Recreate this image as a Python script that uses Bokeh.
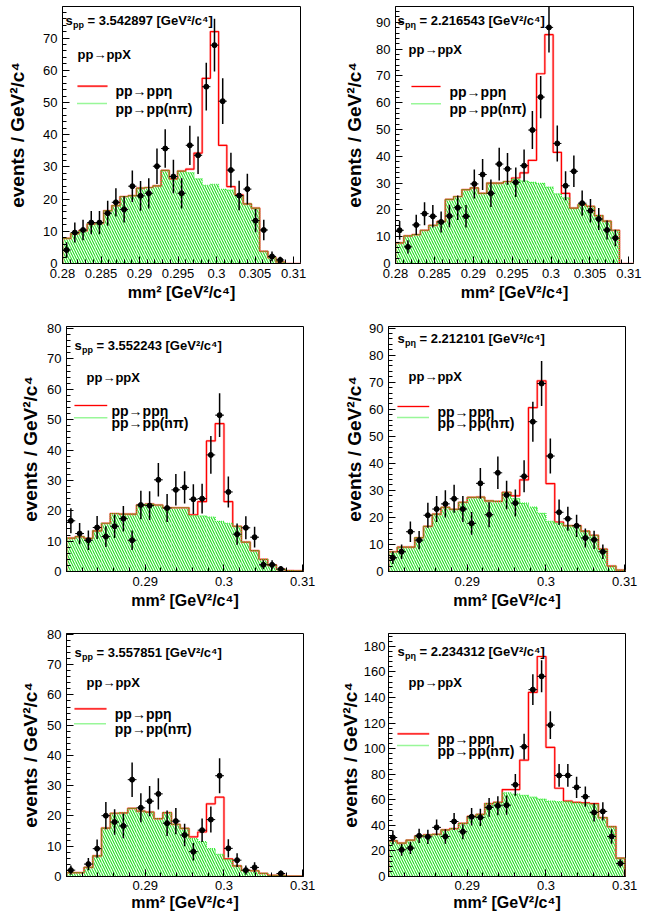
import numpy as np
from bokeh.plotting import figure
from bokeh.layouts import column, row
from bokeh.models import Label, FixedTicker, Range1d
from bokeh.embed import file_html
from bokeh.resources import INLINE

FONT = "Liberation Sans"

# ---------------- data ----------------
top_bin_start = 0.28
top_bin_width = 0.032 / 30
low_bin_start = 0.28
low_bin_width = 0.03 / 27

top_x_ticks = [0.28, 0.285, 0.29, 0.295, 0.30, 0.305, 0.31]
top_x_labels = ["0.28", "0.285", "0.29", "0.295", "0.3", "0.305", "0.31"]
low_x_ticks = [0.29, 0.30, 0.31]
low_x_labels = ["0.29", "0.3", "0.31"]

reaction_text = "pp\u2192ppX"
legend_signal = "pp\u2192pp\u03b7"
legend_background = "pp\u2192pp(n\u03c0)"
x_title = "mm\u00b2 [GeV\u00b2/c\u2074]"
y_title = "events / GeV\u00b2/c\u2074"
energy_unit = "[GeV\u00b2/c\u2074]"

# panel 1 : s_pp = 3.542897
p1_sub = "pp"
p1_value = "3.542897"
p1_data = [4.2, 9.6, 10.4, 12.7, 12.7, 15.6, 19.0, 16.8, 24.0, 21.0, 21.8, 30.2, 35.7, 27.0,
           21.8, 36.7, 33.6, 54.9, 67.8, 50.4, 29.0, 21.1, 23.1, 13.3, 10.4, 2.2, 1.1]
p1_err = [2.4, 3.1, 3.2, 3.6, 3.6, 3.9, 4.4, 4.1, 4.9, 4.6, 4.7, 5.5, 6.0, 5.2,
          4.7, 6.1, 5.8, 7.4, 8.2, 7.1, 5.4, 4.6, 4.8, 3.6, 3.2, 1.5, 1.0]
p1_total = [7.8, 9.3, 10.2, 12.3, 12.5, 16.4, 18.0, 20.8, 21.1, 23.4, 23.6, 24.1, 28.9, 26.3, 28.7,
            29.3, 34.3, 57.5, 72.0, 36.7, 23.9, 21.3, 18.5, 17.2, 3.8, 1.8, 0.5, 0.0, 0.0]
p1_bkg = [7.8, 9.3, 10.2, 12.3, 12.5, 16.4, 18.0, 20.8, 21.1, 23.4, 23.6, 24.1, 28.9, 26.3, 28.7,
          28.2, 26.3, 24.3, 24.6, 23.0, 22.8, 21.0, 18.5, 17.2, 3.8, 1.8, 0.5, 0.0, 0.0]
p1_y_ticks = [0, 10, 20, 30, 40, 50, 60, 70]

# panel 2 : s_p eta = 2.216543
p2_sub = "p\u03b7"
p2_value = "2.216543"
p2_data = [12.4, 6.2, 14.4, 18.6, 17.6, 15.5, 17.7, 20.8, 17.6, 29.7, 33.2, 26.2, 37.1, 35.3,
           30.3, 36.5, 49.8, 62.1, 88.1, 44.8, 29.0, 34.4, 22.5, 19.7, 16.6, 12.5, 9.5]
p2_err = [3.5, 2.5, 3.8, 4.3, 4.2, 3.9, 4.2, 4.6, 4.2, 5.4, 5.8, 5.1, 6.1, 5.9,
          5.5, 6.0, 7.1, 7.9, 9.4, 6.7, 5.4, 5.9, 4.7, 4.4, 4.1, 3.5, 3.1]
p2_total = [7.7, 10.3, 10.8, 12.4, 14.2, 15.7, 23.9, 25.0, 27.6, 28.2, 26.2, 30.0, 30.0, 30.6, 31.9,
            33.8, 38.5, 70.8, 85.4, 41.5, 26.2, 20.7, 22.0, 21.3, 17.9, 15.8, 12.4, 0.0, 0.0]
p2_bkg = [7.7, 10.3, 10.8, 12.4, 14.2, 15.7, 23.9, 25.0, 27.6, 28.2, 26.2, 30.0, 30.0, 30.6, 31.5,
          30.8, 30.3, 29.9, 28.5, 26.0, 24.5, 20.7, 22.0, 21.3, 17.9, 15.8, 12.4, 0.0, 0.0]
p2_y_ticks = [0, 10, 20, 30, 40, 50, 60, 70, 80, 90]

# panel 3 : s_pp = 3.552243
p3_sub = "pp"
p3_value = "3.552243"
p3_data = [16.7, 12.5, 10.3, 14.5, 11.5, 14.9, 17.4, 10.3, 21.9, 21.7, 30.2, 20.9, 26.9, 27.7,
           23.8, 24.0, 38.4, 51.5, 26.2, 12.3, 14.4, 11.3, 2.2, 2.2, 0.8]
p3_err = [4.1, 3.5, 3.2, 3.8, 3.4, 3.9, 4.2, 3.2, 4.7, 4.7, 5.5, 4.6, 5.2, 5.3,
          4.9, 4.9, 6.2, 7.2, 5.1, 3.5, 3.8, 3.4, 1.5, 1.5, 0.9]
p3_total = [11.0, 11.5, 10.9, 13.4, 15.9, 19.1, 18.9, 18.9, 21.9, 22.2, 21.9, 21.0, 21.0, 21.0,
            18.7, 23.0, 43.0, 48.7, 23.0, 14.9, 9.7, 6.9, 4.0, 2.1, 0.7, 0.3, 0.2]
p3_bkg = [11.0, 11.5, 10.9, 13.4, 15.9, 19.1, 18.9, 18.9, 21.9, 22.2, 21.9, 21.0, 21.0, 21.0,
          18.4, 18.3, 17.9, 16.5, 15.9, 14.9, 9.7, 6.9, 4.0, 2.1, 0.7, 0.3, 0.2]
p3_y_ticks = [0, 10, 20, 30, 40, 50, 60, 70, 80]

# panel 4 : s_p eta = 2.212101
p4_sub = "p\u03b7"
p4_value = "2.212101"
p4_data = [5.1, 7.3, 14.7, 11.6, 20.8, 23.1, 25.0, 26.9, 23.1, 17.8, 32.6, 21.0, 36.5, 28.3,
           25.3, 35.2, 55.4, 69.5, 42.7, 21.9, 19.5, 16.9, 12.4, 11.7, 7.3]
p4_err = [2.3, 2.7, 3.8, 3.4, 4.6, 4.8, 5.0, 5.2, 4.8, 4.2, 5.7, 4.6, 6.0, 5.3,
          5.0, 5.9, 7.4, 8.3, 6.5, 4.7, 4.4, 4.1, 3.5, 3.4, 2.7]
p4_total = [7.3, 9.0, 9.0, 12.5, 16.7, 21.2, 23.7, 23.0, 25.6, 27.4, 27.5, 26.1, 25.9, 29.3,
            28.0, 33.9, 60.6, 70.5, 32.5, 18.3, 17.0, 17.0, 14.9, 13.4, 8.3, 2.0, 0.5]
p4_bkg = [7.3, 9.0, 9.0, 12.5, 16.7, 21.2, 23.7, 23.0, 25.6, 27.4, 27.5, 26.1, 25.9, 29.3,
          27.0, 25.3, 23.8, 21.5, 18.5, 17.8, 17.0, 17.0, 14.9, 13.4, 8.3, 2.0, 0.5]
p4_y_ticks = [0, 10, 20, 30, 40, 50, 60, 70, 80, 90]

# panel 5 : s_pp = 3.557851
p5_sub = "pp"
p5_value = "3.557851"
p5_data = [2.1, None, 4.1, 9.2, 20.1, 18.0, 16.7, 32.0, 22.7, 24.9, 27.3, 17.6, 18.3, 13.7,
           8.2, 15.3, 18.8, 33.3, 9.3, 5.4, 2.1, 3.0, None, None, 1.0]
p5_err = [1.5, None, 2.0, 3.0, 4.5, 4.2, 4.1, 5.7, 4.8, 5.0, 5.2, 4.2, 4.3, 3.7,
          2.9, 3.9, 4.3, 5.8, 3.0, 2.3, 1.5, 1.7, None, None, 1.0]
p5_total = [1.3, 1.3, 3.0, 6.8, 16.0, 20.9, 21.0, 22.5, 21.6, 21.3, 19.1, 21.1, 17.2, 15.9,
            13.1, 14.7, 24.0, 26.2, 5.8, 3.5, 2.0, 1.9, 1.0, 0.4, 0.4, 0.1, 0.1]
p5_bkg = [1.3, 1.3, 3.0, 6.8, 16.0, 20.9, 21.0, 22.5, 21.6, 21.3, 19.1, 21.1, 17.2, 15.9,
          12.5, 11.5, 9.2, 7.3, 5.6, 3.5, 2.0, 1.9, 1.0, 0.4, 0.4, 0.1, 0.1]
p5_y_ticks = [0, 10, 20, 30, 40, 50, 60, 70, 80]

# panel 6 : s_p eta = 2.234312
p6_sub = "p\u03b7"
p6_value = "2.234312"
p6_data = [30.5, 20.9, 22.2, 31.8, 31.0, 38.4, 31.3, 43.0, 35.0, 46.7, 46.2, 54.0, 55.3, 55.8,
           71.7, 101.5, 146.1, 156.5, 118.4, 79.0, 79.0, 69.7, 62.4, 50.1, 50.9, 31.3, 10.2]
p6_err = [5.5, 4.6, 4.7, 5.6, 5.6, 6.2, 5.6, 6.6, 5.9, 6.8, 6.8, 7.3, 7.4, 7.5,
          8.5, 10.1, 12.1, 12.5, 10.9, 8.9, 8.9, 8.3, 7.9, 7.1, 7.1, 5.6, 3.2]
p6_total = [27.9, 26.1, 28.4, 31.6, 32.6, 33.0, 36.5, 37.5, 41.5, 47.0, 48.5, 57.0, 58.0, 68.0,
            68.0, 91.0, 144.0, 172.0, 101.0, 69.0, 59.0, 58.0, 57.5, 57.0, 46.0, 39.0, 14.3]
p6_bkg = [27.9, 26.1, 28.4, 31.6, 32.6, 33.0, 36.5, 37.5, 41.5, 47.0, 48.5, 57.0, 58.0, 65.5,
          64.5, 63.5, 62.0, 60.5, 59.0, 58.5, 58.5, 57.5, 57.0, 56.5, 46.0, 39.0, 14.3]
p6_y_ticks = [0, 20, 40, 60, 80, 100, 120, 140, 160, 180]

# ---------------- styling / geometry ----------------
RED = "#ff0000"
RED_HALO = "#ff9a9a"
GREEN = "#1fdd1f"
GREEN_LINE = "#33ee33"


def make_panel(sub, value, data, err, total, bkg, bin_start, bin_width, x_end, y_end,
               y_ticks, y_minor_step, x_ticks, x_labels, x_minor_step, geo):
    fw, fh = geo["fw"], geo["fh"]
    p = figure(frame_width=fw, frame_height=fh,
               x_range=Range1d(bin_start, x_end), y_range=Range1d(0, y_end),
               output_backend="svg", toolbar_location=None,
               min_border_left=geo["bl"], min_border_right=geo["br"],
               min_border_top=geo["bt"], min_border_bottom=geo["bb"])
    p.xgrid.visible = False
    p.ygrid.visible = False
    p.outline_line_color = "black"
    p.outline_line_width = 1
    p.background_fill_color = "white"
    p.border_fill_color = "white"

    n = len(total)
    edges = bin_start + bin_width * np.arange(n + 1)

    # background hatched fill
    p.quad(left=edges[:-1], right=edges[1:], bottom=0, top=bkg,
           fill_alpha=0, line_alpha=0, hatch_pattern="\\", hatch_color=GREEN,
           hatch_scale=5, hatch_weight=1.1)

    sx = np.concatenate([[edges[0]], np.repeat(edges, 2)[1:-1], [edges[-1]]])
    sy_tot = np.concatenate([[0], np.repeat(total, 2), [0]])
    sy_bkg = np.concatenate([[0], np.repeat(bkg, 2), [0]])
    p.line(sx, sy_tot, line_color=RED_HALO, line_width=2.6, line_alpha=0.6)
    p.line(sx, sy_tot, line_color=RED, line_width=1.2)
    p.line(sx, sy_bkg, line_color=GREEN_LINE, line_width=1.2, line_dash="1 1")

    # data points
    idx = [i for i, v in enumerate(data) if v is not None]
    cx = np.array([edges[i] + bin_width / 2 for i in idx])
    vy = np.array([data[i] for i in idx])
    ve = np.array([err[i] for i in idx])
    p.segment(cx, vy - ve, cx, vy + ve, line_color="black", line_width=1.5)
    p.segment(cx - bin_width / 2, vy, cx + bin_width / 2, vy, line_color="black", line_width=1)
    p.scatter(cx, vy, size=5, color="black")

    # axes
    xa = p.xaxis[0]
    ya = p.yaxis[0]
    for ax in (xa, ya):
        ax.major_tick_in = 7
        ax.major_tick_out = 0
        ax.minor_tick_in = 4
        ax.minor_tick_out = 0
        ax.axis_line_color = "black"
        ax.major_tick_line_color = "black"
        ax.minor_tick_line_color = "black"
        ax.major_label_text_font = FONT
        ax.major_label_text_font_size = "13px"
        ax.major_label_text_color = "black"
        ax.axis_label_text_font = FONT
        ax.axis_label_text_font_style = "bold"
        ax.axis_label_text_color = "black"
    xa.ticker = FixedTicker(ticks=x_ticks,
                            minor_ticks=list(np.arange(bin_start, x_end + 1e-9, x_minor_step)))
    xa.major_label_overrides = {t: l for t, l in zip(x_ticks, x_labels)}
    xa.axis_label = x_title
    xa.axis_label_text_font_size = "16px"
    xa.major_label_standoff = geo["xls"]
    xa.axis_label_standoff = geo["xas"]
    ya.ticker = FixedTicker(ticks=y_ticks,
                            minor_ticks=list(np.arange(0, y_end, y_minor_step)))
    ya.axis_label = y_title
    ya.axis_label_text_font_size = "19px"
    ya.major_label_standoff = geo["yls"]
    ya.axis_label_standoff = geo["ylab"]

    x0 = bin_start

    def to_data(rx, ry):
        return (x0 + rx / fw * (x_end - x0), y_end - ry / fh * y_end)

    def lab(rx, ry, text, size):
        p.add_layout(Label(x=x0, y=y_end, x_offset=rx, y_offset=-ry, text=text,
                           text_font=FONT, text_font_size=size, text_font_style="bold",
                           text_color="black", text_baseline="alphabetic", text_align="left"))

    t = geo["txt"]
    # energy label with subscript
    lab(t["s"][0], t["s"][1], "s", "13px")
    lab(t["s"][0] + 7.5, t["s"][1] + 4.5, sub, "9px")
    lab(t["s"][0] + 22, t["s"][1], "= " + value + " " + energy_unit, "13px")
    # reaction
    lab(t["r"][0], t["r"][1], reaction_text, "13px")
    # legend
    l1 = t["l1"]
    l2 = t["l2"]
    (ax0, ay1), (ax1, _) = to_data(l1[0], l1[1]), to_data(l1[2], l1[1])
    p.line([ax0, ax1], [ay1, ay1], line_color=RED_HALO, line_width=2.6, line_alpha=0.6)
    p.line([ax0, ax1], [ay1, ay1], line_color=RED, line_width=1.2)
    (bx0, by), (bx1, _) = to_data(l2[0], l2[1]), to_data(l2[2], l2[1])
    p.line([bx0, bx1], [by, by], line_color=GREEN_LINE, line_width=1.5, line_dash="1 1")
    lab(l1[3], l1[1] + 5.2, legend_signal, "14px")
    lab(l2[3], l2[1] + 5.2, legend_background, "14px")
    return p


geo1 = dict(fw=238, fh=257, bl=62, br=27, bt=6, bb=41, ylab=12, yls=5, xls=5, xas=3,
            txt=dict(s=(3, 14), r=(15, 48), l1=(15, 79.7, 45, 53), l2=(15, 97, 45, 53)))
geo2 = dict(fw=238, fh=257, bl=68, br=21, bt=6, bb=41, ylab=8, yls=5, xls=5, xas=3,
            txt=dict(s=(2, 14), r=(13, 43.3), l1=(16, 80, 45, 54), l2=(16, 97.3, 45, 54)))
geo3 = dict(fw=237, fh=245, bl=66, br=24, bt=22, bb=43, ylab=3, yls=5, xls=5, xas=3,
            txt=dict(s=(8, 19), r=(20, 50.7), l1=(8, 79, 40.7, 45), l2=(8, 91.3, 40.7, 45)))
geo4 = dict(fw=237, fh=245, bl=61, br=29, bt=22, bb=43, ylab=1, yls=5, xls=5, xas=3,
            txt=dict(s=(9, 12.3), r=(20, 50), l1=(9, 80, 40.7, 49), l2=(9, 91, 40.7, 49)))
geo5 = dict(fw=237, fh=243, bl=66, br=24, bt=19, bb=40, ylab=3, yls=5, xls=4, xas=1,
            txt=dict(s=(8, 18.7), r=(20, 48.7), l1=(8, 75.3, 40, 48.3), l2=(8, 90.3, 40, 48.3)))
geo6 = dict(fw=237, fh=243, bl=61, br=29, bt=19, bb=40, ylab=0, yls=3, xls=4, xas=1,
            txt=dict(s=(9, 17.7), r=(20, 48.7), l1=(9, 100.3, 40.7, 49), l2=(9, 112, 40.7, 49)))

f1 = make_panel(p1_sub, p1_value, p1_data, p1_err, p1_total, p1_bkg, top_bin_start, top_bin_width,
                0.3109, 79.8, p1_y_ticks, 2, top_x_ticks, top_x_labels, 0.001, geo1)
f2 = make_panel(p2_sub, p2_value, p2_data, p2_err, p2_total, p2_bkg, top_bin_start, top_bin_width,
                0.3106, 95.9, p2_y_ticks, 2, top_x_ticks, top_x_labels, 0.001, geo2)
f3 = make_panel(p3_sub, p3_value, p3_data, p3_err, p3_total, p3_bkg, low_bin_start, low_bin_width,
                0.3101, 80.7, p3_y_ticks, 2, low_x_ticks, low_x_labels, 0.002, geo3)
f4 = make_panel(p4_sub, p4_value, p4_data, p4_err, p4_total, p4_bkg, low_bin_start, low_bin_width,
                0.3101, 90.6, p4_y_ticks, 2, low_x_ticks, low_x_labels, 0.002, geo4)
f5 = make_panel(p5_sub, p5_value, p5_data, p5_err, p5_total, p5_bkg, low_bin_start, low_bin_width,
                0.3101, 80.3, p5_y_ticks, 2, low_x_ticks, low_x_labels, 0.002, geo5)
f6 = make_panel(p6_sub, p6_value, p6_data, p6_err, p6_total, p6_bkg, low_bin_start, low_bin_width,
                0.3101, 190.0, p6_y_ticks, 4, low_x_ticks, low_x_labels, 0.002, geo6)

layout = column(row(f1, f2), row(f3, f4), row(f5, f6))
open("out.html", "w").write(file_html(layout, INLINE))
